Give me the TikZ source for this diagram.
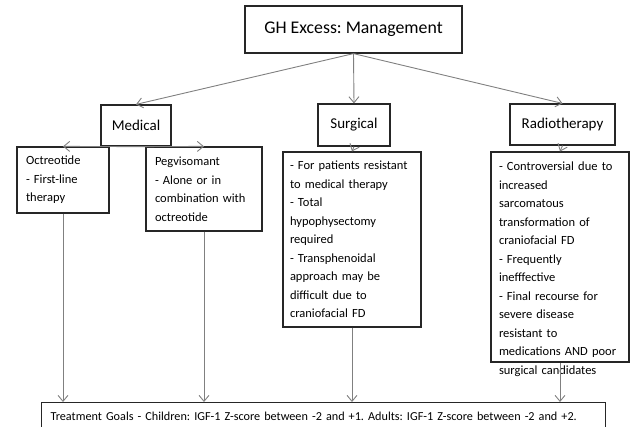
\documentclass[tikz,border=0pt]{standalone}
\usepackage{fontspec}
\setmainfont{Carlito}
\usetikzlibrary{arrows.meta}
\frenchspacing

\begin{document}
\begin{tikzpicture}[x=1pt,y=-1pt]
\tikzstyle{head} = [rectangle, draw=black!85, line width=1.2pt, fill=white,
inner sep=0pt, font=\fontsize{15}{18}\selectfont]
\tikzstyle{block} = [rectangle, draw=black!85, line width=1.2pt, fill=white,
inner xsep=8pt, inner ysep=0pt, align=left, font=\fontsize{12.5}{18.5}\selectfont]
\tikzstyle{line} = [draw, color=black!50, line width=0.9pt,
-{Straight Barb[length=6pt,width=10pt]}]
\useasboundingbox (0,0) rectangle (637,426);
\clip (0,0) rectangle (637,426);
% top
\node [head, minimum width=217pt, minimum height=47pt,
font=\fontsize{17.8}{20}\selectfont] (title) at (353.5,29.5) {GH Excess: Management};
% row 2
\node [head, minimum width=70pt, minimum height=41pt] (medical) at (136,125.5) {Medical};
\node [head, minimum width=72pt, minimum height=42pt] (surgical) at (354,125) {Surgical};
\node [head, minimum width=105pt, minimum height=41pt] (radio) at (562.5,124.5) {Radiotherapy};
% row 3
\node [block, text width=74pt, inner xsep=9pt, minimum height=66pt] (octreotide) at (63,180)
{Octreotide\\- First-line\\therapy};
\node [block, text width=98pt, inner xsep=9pt, minimum height=84pt] (pegvisomant) at (204,189)
{Pegvisomant\\- Alone or in\\combination with\\octreotide};
\node [block, text width=124pt, inner xsep=7pt, minimum height=175pt] (surgbox) at (352,239.5)
{- For patients resistant\\to medical therapy\\- Total\\hypophysectomy\\required\\- Transphenoidal\\approach may be\\difficult due to\\craniofacial FD};
\node [block, minimum width=138pt, minimum height=210pt] (radbox) at (560,257) {};
\node [block, draw=none, fill=none, text width=122pt] (radtxt) at (560,269)
{- Controversial due to\\increased\\sarcomatous\\transformation of\\craniofacial FD\\- Frequently\\inefffective\\- Final recourse for\\severe disease\\resistant to\\medications AND poor\\surgical candidates};
% bottom
\node [block, anchor=north west, text width=550pt, inner xsep=7pt, minimum height=28pt,
font=\fontsize{12.2}{14}\selectfont] (goals) at (41,402)
{\hspace{2pt}Treatment Goals - Children: IGF-1 Z-score between -2 and +1. Adults: IGF-1 Z-score between -2 and +2.};

\tikzstyle{every path}=[line]
\path (title.south) -- (medical.north);
\path (title.south) -- (surgical.north);
\path (title.south) -- (radio.north);
\path (medical.south) -- (octreotide.north);
\path (medical.south) -- (pegvisomant.north);
\path (surgical.south) -- (surgbox.north);
\path (radio.south) -- (radbox.north);
\path (octreotide.south) -- (octreotide.south |- goals.north);
\path (pegvisomant.south) -- (pegvisomant.south |- goals.north);
\path (surgbox.south) -- (surgbox.south |- goals.north);
\path (radbox.south) -- (radbox.south |- goals.north);
\end{tikzpicture}
\end{document}
